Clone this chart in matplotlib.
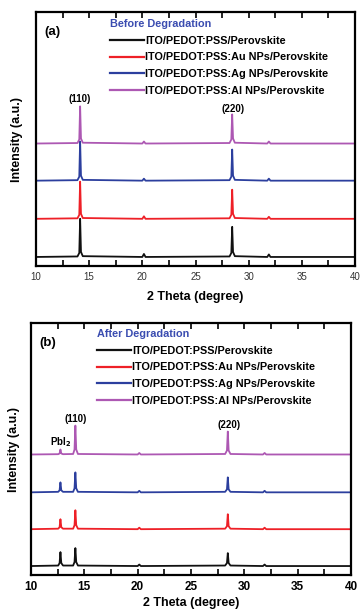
import matplotlib.pyplot as plt
from matplotlib.ticker import MultipleLocator
from matplotlib.lines import Line2D

plt.rcParams['font.family'] = ['Liberation Sans', 'DejaVu Sans']

labels = ['ITO/PEDOT:PSS/Perovskite',
          'ITO/PEDOT:PSS:Au NPs/Perovskite',
          'ITO/PEDOT:PSS:Ag NPs/Perovskite',
          'ITO/PEDOT:PSS:Al NPs/Perovskite']
colors = ['#111111', '#ee2027', '#2c3f9e', '#ad58b3']

# (a) before degradation: 2theta points and intensities (a.u., baseline = 0)
xa = [10, 13.9, 14.07, 14.15, 14.23, 14.4, 20.0, 20.15, 20.3,
      28.2, 28.37, 28.45, 28.53, 28.7, 31.75, 31.9, 32.05, 40]
ya_black = [0, 0.5, 4, 38, 5, 0.8, 0, 3, 0, 0.5, 4, 30, 5, 0.8, 0, 2.5, 0, 0]
ya_red = [0, 0.5, 4, 37, 5, 0.8, 0, 2.5, 0, 0.5, 4, 29, 5, 0.8, 0, 2, 0, 0]
ya_blue = [0, 0.5, 4, 39, 5, 0.8, 0, 2, 0, 0.5, 4, 31, 5, 0.8, 0, 2, 0, 0]
ya_purple = [0, 0.5, 4, 37, 5, 0.8, 0, 2, 0, 0.5, 4, 29, 5, 0.8, 0, 2, 0, 0]
offs_a = [9, 47, 85, 122]

# (b) after degradation
xb = [10, 12.55, 12.68, 12.76, 12.84, 13.0, 13.95, 14.08, 14.16, 14.24, 14.4,
      20.0, 20.15, 20.3, 28.2, 28.37, 28.45, 28.53, 28.7, 31.75, 31.9, 32.05, 40]
yb_black = [0, 0.5, 3, 14, 3, 0.5, 0.5, 4, 18, 4, 0.5, 0, 1.5, 0,
            0.5, 3, 13, 3, 0.5, 0, 1.5, 0, 0]
yb_red = [0, 0.5, 2, 10, 2, 0.5, 0.5, 4, 19, 4, 0.5, 0, 1.5, 0,
          0.5, 3, 15, 3, 0.5, 0, 1.5, 0, 0]
yb_blue = [0, 0.5, 2, 10, 2, 0.5, 0.5, 4, 20, 4, 0.5, 0, 1.5, 0,
           0.5, 3, 15, 3, 0.5, 0, 1.5, 0, 0]
yb_purple = [0, 0.3, 1, 5, 1, 0.3, 0.5, 5, 29, 5, 0.5, 0, 1.5, 0,
             0.5, 4, 23, 4, 0.5, 0, 1.5, 0, 0]
offs_b = [9, 46, 83, 121]

W, H = 361, 610
fig = plt.figure(figsize=(3.61, 6.10), dpi=100)


def make_axes(l, t, r, b):
    return fig.add_axes([l / W, 1 - b / H, (r - l) / W, (b - t) / H])


def style(ax, tick_size, tick_weight, tick_color, pad):
    ax.set_xlim(10, 40)
    ax.set_ylim(0, 253)
    ax.xaxis.set_major_locator(MultipleLocator(5))
    ax.xaxis.set_minor_locator(MultipleLocator(2.5))
    ax.tick_params(axis='x', which='both', direction='in', top=True,
                   length=4, width=1.2)
    ax.tick_params(axis='x', which='major', labelsize=tick_size,
                   labelcolor=tick_color, pad=pad)
    for t in ax.get_xticklabels():
        t.set_fontweight(tick_weight)
    ax.tick_params(axis='y', left=False, labelleft=False)
    for s in ax.spines.values():
        s.set_linewidth(1.6)


def add_legend(ax, title, x0, y0, hlen):
    handles = [Line2D([], [], color=c, lw=1.6) for c in colors]
    leg = ax.legend(handles, labels, loc='upper left',
                    bbox_to_anchor=(x0 / W, 1 - y0 / H),
                    bbox_transform=fig.transFigure, frameon=False,
                    prop={'weight': 'bold', 'size': 7.8},
                    title=title,
                    title_fontproperties={'weight': 'bold', 'size': 7.8},
                    alignment='left', handlelength=hlen, handletextpad=0.12,
                    labelspacing=0.62, borderpad=0, borderaxespad=0)
    leg.get_title().set_color('#3a4cb0')


# panel (a)
ax1 = make_axes(36, 12, 355, 266)
for y, off, c in zip([ya_black, ya_red, ya_blue, ya_purple], offs_a, colors):
    ax1.plot(xa, [v + off for v in y], color=c, lw=1.3)
style(ax1, 7, 'normal', '#333333', 4.5)
add_legend(ax1, 'Before Degradation', 110, 19, 3.15)
ax1.text(0.053, 0.92, '(a)', transform=ax1.transAxes, fontsize=9.5,
         fontweight='bold', va='center', ha='center')
ax1.text(14.15, 166, '(110)', fontsize=7, fontweight='bold', ha='center', va='center')
ax1.text(28.5, 156, '(220)', fontsize=7, fontweight='bold', ha='center', va='center')
ax1.set_xlabel('2 Theta (degree)', fontsize=9, fontweight='bold', va='center')
ax1.xaxis.set_label_coords(0.5, -0.124)
ax1.set_ylabel('Intensity (a.u.)', fontsize=9, fontweight='bold', va='center')
ax1.yaxis.set_label_coords(-0.06, 0.5)

# panel (b)
ax2 = make_axes(31, 323, 351, 575)
for y, off, c in zip([yb_black, yb_red, yb_blue, yb_purple], offs_b, colors):
    ax2.plot(xb, [v + off for v in y], color=c, lw=1.3)
style(ax2, 8.5, 'bold', 'black', 4)
add_legend(ax2, 'After Degradation', 97, 329, 3.1)
ax2.text(0.053, 0.92, '(b)', transform=ax2.transAxes, fontsize=9.5,
         fontweight='bold', va='center', ha='center')
ax2.text(14.2, 157, '(110)', fontsize=7, fontweight='bold', ha='center', va='center')
ax2.text(28.6, 151, '(220)', fontsize=7, fontweight='bold', ha='center', va='center')
ax2.text(12.8, 133, r'PbI$_\mathbf{2}$', fontsize=7, fontweight='bold', ha='center', va='center')
ax2.set_xlabel('2 Theta (degree)', fontsize=9, fontweight='bold', va='center')
ax2.xaxis.set_label_coords(0.5, -0.111)
ax2.set_ylabel('Intensity (a.u.)', fontsize=9, fontweight='bold', va='center')
ax2.yaxis.set_label_coords(-0.053, 0.5)

fig.savefig('out.png', dpi=100)
